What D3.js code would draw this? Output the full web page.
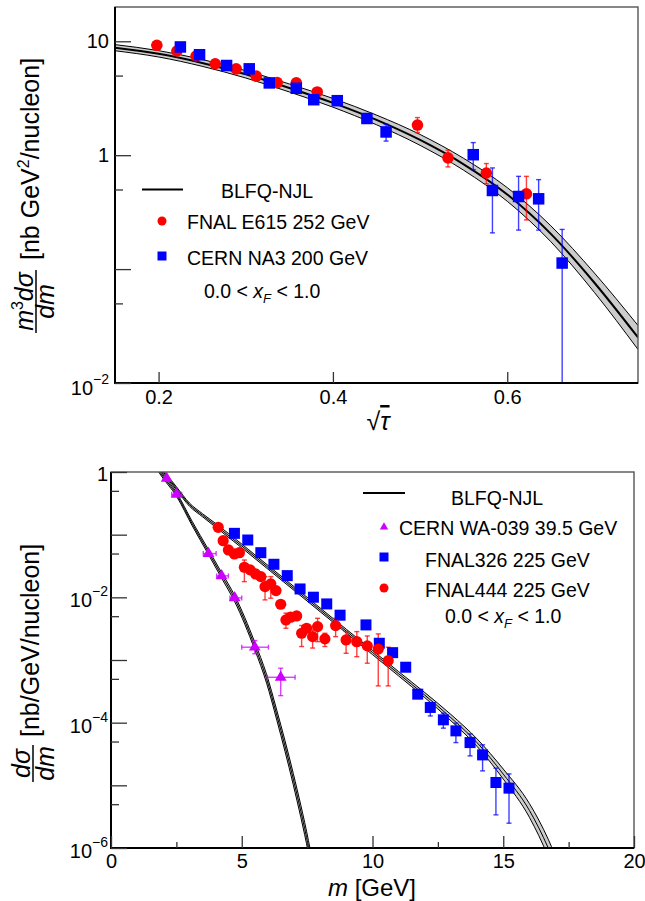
<!DOCTYPE html>
<html>
<head>
<meta charset="utf-8">
<script src="https://cdn.jsdelivr.net/npm/d3@7"></script>
<style>
  body { margin: 0; background: #fff; }
  svg { display: block; font-family: "Liberation Sans", Arial, sans-serif; }
</style>
</head>
<body>
<svg id="chart" width="645" height="901"></svg>
<script>
// ---------- top panel: m^3 dσ/dm vs sqrt(tau) ----------
const tauGrid   = [0.15, 0.2, 0.25, 0.3, 0.35, 0.4, 0.45, 0.5, 0.55, 0.6, 0.65, 0.7, 0.75];
const njlTopMid = [8.79, 7.76, 6.46, 5.13, 3.89, 2.88, 2.04, 1.36, 0.832, 0.452, 0.204, 0.0759, 0.0251];
const njlTopHi  = [9.35, 8.28, 6.92, 5.52, 4.22, 3.15, 2.25, 1.52, 0.938, 0.519, 0.240, 0.0923, 0.0320];
const njlTopLo  = [8.26, 7.28, 6.03, 4.76, 3.59, 2.64, 1.85, 1.22, 0.738, 0.394, 0.174, 0.0624, 0.0197];

const e615Tau = [0.198, 0.221, 0.243, 0.265, 0.289, 0.312, 0.336, 0.358, 0.382, 0.497, 0.532, 0.576, 0.622];
const e615Val = [9.22, 8.22, 7.43, 6.35, 5.73, 4.94, 4.34, 4.31, 3.59, 1.84, 0.948, 0.698, 0.458];
const e615Hi  = [null, null, null, null, null, null, null, null, null, 2.14, 1.107, 0.845, 0.652];
const e615Lo  = [null, null, null, null, null, null, null, null, null, 1.58, 0.789, 0.562, 0.270];

const na3Tau = [0.225, 0.247, 0.278, 0.304, 0.327, 0.358, 0.378, 0.405, 0.439, 0.461, 0.561, 0.583, 0.613, 0.636, 0.663];
const na3Val = [8.92, 7.62, 6.13, 5.73, 4.31, 3.87, 3.07, 3.01, 2.10, 1.60, 1.01, 0.490, 0.434, 0.414, 0.113];
const na3Hi  = [null, null, null, null, null, null, null, null, null, 1.87, 1.29, 0.773, 0.652, 0.610, 0.223];
const na3Lo  = [null, null, null, null, null, null, null, null, null, 1.33, 0.747, 0.208, 0.220, 0.220, 0.001];

// ---------- bottom panel: dσ/dm vs m ----------
const waGridM   = [1.75, 1.87, 2.51, 3.1, 3.73, 4.23, 4.73, 5.5, 5.95, 6.34, 6.97, 7.55, 7.7];
const waCurveMid = [1.202, 1.0, 0.437, 0.151, 0.0525, 0.0224, 0.00955, 0.00166, 5.01e-4, 1.32e-4, 1.26e-5, 1.05e-6, 5.01e-7];
const waCurveHi  = [1.288, 1.072, 0.468, 0.164, 0.0575, 0.0248, 0.0107, 0.00191, 5.89e-4, 1.58e-4, 1.55e-5, 1.32e-6, 6.31e-7];
const waCurveLo  = [1.122, 0.933, 0.407, 0.140, 0.0479, 0.0202, 0.00851, 0.00145, 4.27e-4, 1.10e-4, 1.02e-5, 8.32e-7, 3.98e-7];

const fnalGridM    = [1.9, 2.0, 2.5, 3.0, 3.5, 4.0, 5.0, 6.0, 7.0, 8.0, 9.0, 10.0, 11.0, 12.0, 13.0, 14.0, 15.0, 16.0, 16.72, 17.2];
const fnalCurveMid = [1.122, 1.0, 0.550, 0.302, 0.204, 0.141, 0.0661, 0.0302, 0.0138, 0.00631, 0.00288, 0.00132, 6.03e-4, 2.75e-4, 1.20e-4, 4.79e-5, 1.51e-5, 3.98e-6, 1.0e-6, 3.16e-7];
const fnalCurveHi  = [1.189, 1.059, 0.582, 0.320, 0.216, 0.151, 0.0708, 0.0324, 0.0148, 0.00676, 0.00309, 0.00142, 6.53e-4, 3.02e-4, 1.35e-4, 5.50e-5, 1.82e-5, 5.13e-6, 1.38e-6, 4.57e-7];
const fnalCurveLo  = [1.059, 0.944, 0.519, 0.285, 0.193, 0.132, 0.0617, 0.0282, 0.0129, 0.00589, 0.00269, 0.00122, 5.56e-4, 2.51e-4, 1.07e-4, 4.17e-5, 1.26e-5, 3.09e-6, 7.24e-7, 2.19e-7];

const wa039M   = [2.13, 2.51, 3.73, 4.23, 4.73, 5.50, 6.49];
const wa039Val = [0.79, 0.44, 0.050, 0.022, 0.0098, 0.0016, 5.3e-4];
const wa039MLo = [null, 2.32, 3.53, 4.04, 4.55, 5.0, 5.98];
const wa039MHi = [null, 2.70, 4.02, 4.49, 5.0, 6.02, 7.04];
const wa039Hi  = [null, null, null, null, null, 0.00204, 7.4e-4];
const wa039Lo  = [null, null, null, null, null, 0.00126, 2.7e-4];

const fnal326M   = [4.72, 5.23, 5.73, 6.23, 6.74, 7.23, 7.74, 8.25, 8.76, 9.75, 10.26, 10.77, 11.27, 11.73, 12.21, 12.71, 13.19, 13.73, 14.21, 14.72, 15.22];
const fnal326Val = [0.105, 0.0822, 0.0516, 0.0337, 0.0222, 0.0136, 0.01005, 0.00785, 0.00519, 0.00363, 0.00185, 0.00131, 7.67e-4, 2.85e-4, 1.75e-4, 1.11e-4, 7.40e-5, 4.81e-5, 3.06e-5, 1.11e-5, 9.02e-6];
const fnal326Hi  = [null, null, null, null, null, null, null, null, null, null, null, null, null, null, 2.05e-4, 1.42e-4, 9.82e-5, 6.62e-5, 4.43e-5, 1.88e-5, 1.52e-5];
const fnal326Lo  = [null, null, null, null, null, null, null, null, null, null, null, null, null, null, 1.28e-4, 8.17e-5, 4.81e-5, 2.95e-5, 1.70e-5, 3.38e-6, 2.49e-6];

const fnal444M   = [4.10, 4.29, 4.49, 4.72, 4.91, 5.10, 5.32, 5.53, 5.73, 5.89, 6.11, 6.31, 6.49, 6.69, 6.87, 7.10, 7.29, 7.48, 7.71, 7.90, 8.18, 8.59, 8.99, 9.40, 9.80, 10.22, 10.60];
const fnal444Val = [0.131, 0.0802, 0.0570, 0.0492, 0.0516, 0.0302, 0.0274, 0.0236, 0.0214, 0.0148, 0.0164, 0.0128, 0.00776, 0.00436, 0.00482, 0.00505, 0.00267, 0.00321, 0.00236, 0.00341, 0.00217, 0.00354, 0.00209, 0.00196, 0.00168, 0.00149, 9.77e-4];
const fnal444Hi  = [null, null, null, null, null, 0.0394, null, null, null, 0.0214, 0.0214, null, null, 0.0056, null, null, 0.00355, null, 0.00302, 0.00463, 0.00267, 0.00463, 0.00284, 0.00284, 0.00242, 0.00261, 0.0016];
const fnal444Lo  = [null, null, null, null, null, 0.0178, null, null, null, 0.0091, 0.00968, null, null, 0.00321, null, null, 0.00164, null, 0.00155, 0.00196, 0.00164, 0.00236, 0.00128, 0.00113, 8.89e-4, 3.86e-4, 3.86e-4];

// ---------- ticks ----------
const xTicksTop   = [0.2, 0.4, 0.6];
const yMajorTop   = [0.01, 0.1, 1, 10];
const yMinorTop   = [0.05, 0.5, 5];
const yLabelsTop  = [0.01, 1, 10];
const xMajorBot   = [0, 5, 10, 15, 20];
const xMinorBot   = [2.5, 7.5, 12.5, 17.5];
const yMajorBot   = [1e-6, 1e-5, 1e-4, 1e-3, 1e-2, 1e-1, 1];
const yMinorBot   = [5e-6, 5e-5, 5e-4, 5e-3, 5e-2, 5e-1];
const yLabelsBot  = [1e-6, 1e-4, 1e-2, 1];

const RED = "#ff0000", BLUE = "#0000ff", VIOLET = "#cc00ff";

const svg = d3.select("#chart");

// scales
const xTop = d3.scaleLinear().domain([0.15, 0.75]).range([115, 638]);
const yTop = d3.scaleLog().domain([0.01, 20]).range([383, 7]);
const xBot = d3.scaleLinear().domain([0, 20]).range([111, 634]);
const yBot = d3.scaleLog().domain([1e-6, 1]).range([848, 472]);

const defs = svg.append("defs");
defs.append("clipPath").attr("id", "clipTop").append("rect")
  .attr("x", 115).attr("y", 7).attr("width", 523).attr("height", 376);
defs.append("clipPath").attr("id", "clipBot").append("rect")
  .attr("x", 111).attr("y", 472).attr("width", 523).attr("height", 376);

// band: grey fill, thin black edges, black centre line
function drawBand(g, xs, mid, hi, lo, x, y, midWidth) {
  const pts = xs.map((v, i) => ({ x: v, m: mid[i], h: hi[i], l: lo[i] }));
  const area = d3.area().x(d => x(d.x)).y0(d => y(d.l)).y1(d => y(d.h)).curve(d3.curveMonotoneX);
  g.append("path").datum(pts).attr("d", area).attr("fill", "#cccccc");
  ["h", "l"].forEach(k => {
    g.append("path").datum(pts)
      .attr("d", d3.line().x(d => x(d.x)).y(d => y(d[k])).curve(d3.curveMonotoneX))
      .attr("fill", "none").attr("stroke", "#000").attr("stroke-width", 1);
  });
  g.append("path").datum(pts)
    .attr("d", d3.line().x(d => x(d.x)).y(d => y(d.m)).curve(d3.curveMonotoneX))
    .attr("fill", "none").attr("stroke", "#000").attr("stroke-width", midWidth);
}

// error bars with small end caps
function drawErrors(g, pts, x, y, color) {
  const eg = g.append("g").attr("stroke", color).attr("stroke-opacity", 0.75).attr("stroke-width", 1.4);
  pts.forEach(d => {
    if (d.hi != null) {
      const px = x(d.x), y1 = y(d.hi), y2 = y(d.lo);
      eg.append("line").attr("x1", px).attr("x2", px).attr("y1", y1).attr("y2", y2);
      [y1, y2].forEach(yy => eg.append("line").attr("x1", px - 2.5).attr("x2", px + 2.5).attr("y1", yy).attr("y2", yy));
    }
    if (d.xlo != null) {
      const py = y(d.v), x1 = x(d.xlo), x2 = x(d.xhi);
      eg.append("line").attr("x1", x1).attr("x2", x2).attr("y1", py).attr("y2", py);
      [x1, x2].forEach(xx => eg.append("line").attr("x1", xx).attr("x2", xx).attr("y1", py - 2.5).attr("y2", py + 2.5));
    }
  });
}

function drawCircles(g, pts, x, y, r) {
  g.selectAll(null).data(pts).enter().append("circle")
    .attr("cx", d => x(d.x)).attr("cy", d => y(d.v)).attr("r", r).attr("fill", RED);
}
function drawSquares(g, pts, x, y, s) {
  g.selectAll(null).data(pts).enter().append("rect")
    .attr("x", d => x(d.x) - s / 2).attr("y", d => y(d.v) - s / 2)
    .attr("width", s).attr("height", s).attr("fill", BLUE);
}

function zipPts(xs, vs, his, los, xlos, xhis) {
  return xs.map((v, i) => ({
    x: v, v: vs[i],
    hi: his ? his[i] : null, lo: los ? los[i] : null,
    xlo: xlos ? xlos[i] : null, xhi: xhis ? xhis[i] : null
  }));
}

function styleAxis(g) {
  g.select(".domain").remove();
  g.selectAll("line").attr("stroke", "#333").attr("stroke-width", 1.3);
  g.attr("font-family", "Liberation Sans, Arial, sans-serif").attr("font-size", 20);
}

// log-axis label like 10^-2
function yLabel(g, xRight, yPix, v, shiftPlain, shiftPow) {
  const e = Math.round(Math.log10(v));
  const t = g.append("text").attr("x", xRight).attr("text-anchor", "end").attr("font-size", 20).attr("fill", "#000");
  if (e === 0 || e === 1) {
    t.attr("y", yPix + shiftPlain).text(e === 0 ? "1" : "10");
  } else {
    t.attr("y", yPix + shiftPow);
    t.append("tspan").text("10");
    t.append("tspan").attr("font-size", 14).attr("dy", -11).text("\u2212" + (-e));
  }
}

// ================= TOP PANEL =================
const topPanel = svg.append("g");
const topData = topPanel.append("g").attr("clip-path", "url(#clipTop)");
drawBand(topData, tauGrid, njlTopMid, njlTopHi, njlTopLo, xTop, yTop, 2);

const e615Pts = zipPts(e615Tau, e615Val, e615Hi, e615Lo);
const na3Pts = zipPts(na3Tau, na3Val, na3Hi, na3Lo);
drawErrors(topData, e615Pts, xTop, yTop, RED);
drawErrors(topData, na3Pts, xTop, yTop, BLUE);
drawCircles(topData, e615Pts, xTop, yTop, 5.8);
drawSquares(topData, na3Pts, xTop, yTop, 11.5);

// frame
topPanel.append("rect").attr("x", 115).attr("y", 7).attr("width", 523).attr("height", 376)
  .attr("fill", "none").attr("stroke", "#555").attr("stroke-width", 1.4);
topPanel.append("path").attr("d", "M115,7V383H638").attr("fill", "none").attr("stroke", "#000").attr("stroke-width", 2);

topPanel.append("g").attr("transform", "translate(0,383)")
  .call(d3.axisBottom(xTop).tickValues(xTicksTop).tickSize(-11).tickPadding(7).tickFormat(d3.format(".1f")))
  .call(styleAxis);
topPanel.append("g").attr("transform", "translate(115,0)")
  .call(d3.axisLeft(yTop).tickValues(yMajorTop).tickSize(-16).tickFormat(""))
  .call(styleAxis);
topPanel.append("g").attr("transform", "translate(115,0)")
  .call(d3.axisLeft(yTop).tickValues(yMinorTop).tickSize(-8).tickFormat(""))
  .call(styleAxis);
yLabelsTop.forEach(v => yLabel(topPanel, 109, yTop(v), v, 7, 12));

// x title: sqrt(tau)
const sq = topPanel.append("text").attr("x", 378).attr("y", 430).attr("text-anchor", "middle").attr("font-size", 25);
sq.append("tspan").text("\u221A");
sq.append("tspan").attr("font-style", "italic").attr("text-decoration", "overline").text("\u03C4");

// y title (rotated)
const tNum = topPanel.append("text").attr("transform", "translate(33,301.5) rotate(-90)")
  .attr("text-anchor", "middle").attr("font-size", 25);
tNum.append("tspan").attr("font-style", "italic").text("m");
tNum.append("tspan").attr("font-size", 16).attr("dy", -10).text("3");
tNum.append("tspan").attr("font-style", "italic").attr("dy", 10).text("d\u03C3");
topPanel.append("line").attr("x1", 36).attr("x2", 36).attr("y1", 270).attr("y2", 333)
  .attr("stroke", "#000").attr("stroke-width", 1.5);
topPanel.append("text").attr("transform", "translate(54,301.5) rotate(-90)")
  .attr("text-anchor", "middle").attr("font-size", 25).attr("font-style", "italic").text("dm");
const tBr = topPanel.append("text").attr("transform", "translate(39,260) rotate(-90)").attr("font-size", 25);
tBr.append("tspan").text("[nb GeV");
tBr.append("tspan").attr("font-size", 16).attr("dy", -10).text("2");
tBr.append("tspan").attr("dy", 10).text("/nucleon]");

// legend
const legT = topPanel.append("g").attr("font-size", 19.5);
legT.append("line").attr("x1", 142).attr("x2", 183).attr("y1", 189.5).attr("y2", 189.5)
  .attr("stroke", "#000").attr("stroke-width", 2);
legT.append("text").attr("x", 221).attr("y", 198).text("BLFQ-NJL");
legT.append("circle").attr("cx", 162).attr("cy", 221).attr("r", 4.5).attr("fill", RED);
legT.append("text").attr("x", 187).attr("y", 229).text("FNAL E615 252 GeV");
legT.append("rect").attr("x", 157.5).attr("y", 251.5).attr("width", 9).attr("height", 9).attr("fill", BLUE);
legT.append("text").attr("x", 187).attr("y", 265).text("CERN NA3 200 GeV");
function xfText(g, x, y) {
  const t = g.append("text").attr("x", x).attr("y", y);
  t.append("tspan").text("0.0 < ");
  t.append("tspan").attr("font-style", "italic").text("x");
  t.append("tspan").attr("font-style", "italic").attr("font-size", 13).attr("dy", 5).text("F");
  t.append("tspan").attr("dy", -5).text(" < 1.0");
}
xfText(legT, 204, 298);

// ================= BOTTOM PANEL =================
const botPanel = svg.append("g");
const botData = botPanel.append("g").attr("clip-path", "url(#clipBot)");
drawBand(botData, waGridM, waCurveMid, waCurveHi, waCurveLo, xBot, yBot, 1);
drawBand(botData, fnalGridM, fnalCurveMid, fnalCurveHi, fnalCurveLo, xBot, yBot, 1);

const waPts = zipPts(wa039M, wa039Val, wa039Hi, wa039Lo, wa039MLo, wa039MHi);
const f326Pts = zipPts(fnal326M, fnal326Val, fnal326Hi, fnal326Lo);
const f444Pts = zipPts(fnal444M, fnal444Val, fnal444Hi, fnal444Lo);
drawErrors(botData, waPts, xBot, yBot, VIOLET);
drawErrors(botData, f326Pts, xBot, yBot, BLUE);
drawErrors(botData, f444Pts, xBot, yBot, RED);
drawSquares(botData, f326Pts, xBot, yBot, 11);
drawCircles(botData, f444Pts, xBot, yBot, 5.6);
botData.selectAll(null).data(waPts).enter().append("path")
  .attr("d", d3.symbol(d3.symbolTriangle, 60))
  .attr("transform", d => `translate(${xBot(d.x)},${yBot(d.v)})`)
  .attr("fill", VIOLET);

botPanel.append("rect").attr("x", 111).attr("y", 472).attr("width", 523).attr("height", 376)
  .attr("fill", "none").attr("stroke", "#555").attr("stroke-width", 1.4);
botPanel.append("path").attr("d", "M111,472V848H634").attr("fill", "none").attr("stroke", "#000").attr("stroke-width", 2);

botPanel.append("g").attr("transform", "translate(0,848)")
  .call(d3.axisBottom(xBot).tickValues(xMajorBot).tickSize(-12).tickPadding(6).tickFormat(d3.format("d")))
  .call(styleAxis);
botPanel.append("g").attr("transform", "translate(0,848)")
  .call(d3.axisBottom(xBot).tickValues(xMinorBot).tickSize(-6).tickFormat(""))
  .call(styleAxis);
botPanel.append("g").attr("transform", "translate(111,0)")
  .call(d3.axisLeft(yBot).tickValues(yMajorBot).tickSize(-16).tickFormat(""))
  .call(styleAxis);
botPanel.append("g").attr("transform", "translate(111,0)")
  .call(d3.axisLeft(yBot).tickValues(yMinorBot).tickSize(-8).tickFormat(""))
  .call(styleAxis);
yLabelsBot.forEach(v => yLabel(botPanel, 108, yBot(v), v, 9, 10));

// x title
const mt = botPanel.append("text").attr("x", 328).attr("y", 896).attr("font-size", 24);
mt.append("tspan").attr("font-style", "italic").text("m");
mt.append("tspan").text(" [GeV]");

// y title
botPanel.append("text").attr("transform", "translate(30,763.5) rotate(-90)")
  .attr("text-anchor", "middle").attr("font-size", 25).attr("font-style", "italic").text("d\u03C3");
botPanel.append("line").attr("x1", 33).attr("x2", 33).attr("y1", 745).attr("y2", 782)
  .attr("stroke", "#000").attr("stroke-width", 1.5);
botPanel.append("text").attr("transform", "translate(54,763.5) rotate(-90)")
  .attr("text-anchor", "middle").attr("font-size", 25).attr("font-style", "italic").text("dm");
botPanel.append("text").attr("transform", "translate(39,737) rotate(-90)")
  .attr("font-size", 25).text("[nb/GeV/nucleon]");

// legend
const legB = botPanel.append("g").attr("font-size", 19.5);
legB.append("line").attr("x1", 363).attr("x2", 405).attr("y1", 493).attr("y2", 493)
  .attr("stroke", "#000").attr("stroke-width", 2);
legB.append("text").attr("x", 451).attr("y", 505).text("BLFQ-NJL");
legB.append("path").attr("d", d3.symbol(d3.symbolTriangle, 30)).attr("transform", "translate(384,527)").attr("fill", VIOLET);
legB.append("text").attr("x", 399).attr("y", 535).text("CERN WA-039 39.5 GeV");
legB.append("rect").attr("x", 379.5).attr("y", 552.5).attr("width", 9).attr("height", 9).attr("fill", BLUE);
legB.append("text").attr("x", 425).attr("y", 567).text("FNAL326 225 GeV");
legB.append("circle").attr("cx", 384).attr("cy", 588).attr("r", 4.5).attr("fill", RED);
legB.append("text").attr("x", 425).attr("y", 597).text("FNAL444 225 GeV");
xfText(legB, 445, 623);
</script>
</body>
</html>
